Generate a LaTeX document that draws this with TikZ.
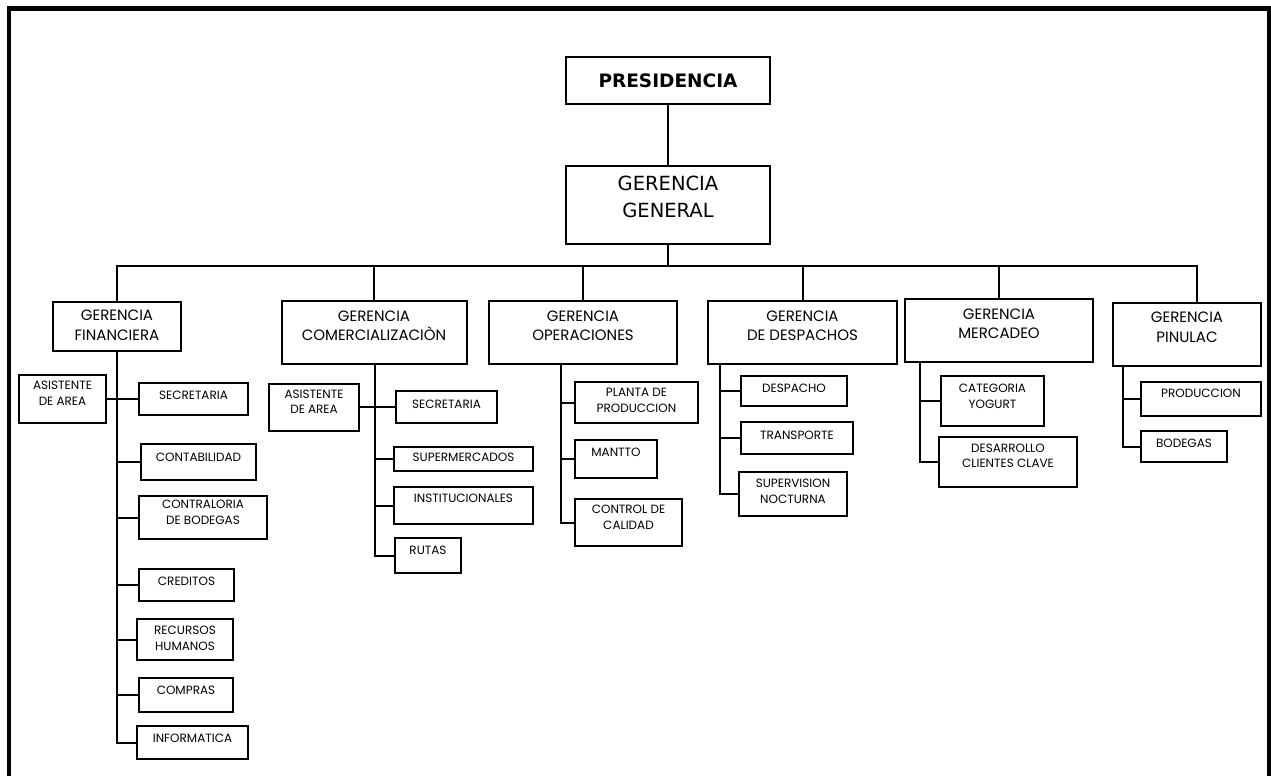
\documentclass[tikz,border=0pt]{standalone}
\usepackage{fontspec}
\setmainfont{Poppins}
\newfontfamily\headfont{DejaVu Sans}
% raise box contents without changing the box size, lines stacked in a tabular
\newcommand\lift[2]{\raisebox{#1}[\height][\depth]{\begin{tabular}{@{}c@{}}#2\end{tabular}}}
\tikzset{
  unit/.style={draw, line width=2pt, inner sep=0pt, fill=white},
  leaf/.style={unit, font=\fontsize{12}{15.5}\selectfont},
  dept/.style={unit, font=\fontsize{15}{19.5}\selectfont},
  chief/.style={unit, font=\headfont\fontsize{19.5}{27}\selectfont},
  top/.style={unit, font=\headfont\bfseries\fontsize{18.5}{22}\selectfont},
  link/.style={line width=2pt},
  sz/.style 2 args={minimum width=#1pt, minimum height=#2pt}
}
\begin{document}
\begin{tikzpicture}[x=1pt,y=-1pt]
\useasboundingbox (0,0) rectangle (1271,776);
% page frame
\draw[line width=4.5pt] (9,776) -- (9,8.5) -- (1269.5,8.5) -- (1269.5,776);

% top of the chart
\node[top, sz={204}{47}] (pres) at (668,80.5) {PRESIDENCIA};
\node[chief, sz={204}{78}] (gg) at (668,205) {\lift{6pt}{GERENCIA\\GENERAL}};

% managements
\node[dept, sz={128}{49}] (fin) at (117,326.5) {\lift{0pt}{GERENCIA\\FINANCIERA}};
\node[dept, sz={185}{63}] (com) at (374,332.5) {\lift{5.5pt}{GERENCIA\\COMERCIALIZACIÒN}};
\node[dept, sz={188}{63}] (ope) at (583,332.5) {\lift{5.5pt}{GERENCIA\\OPERACIONES}};
\node[dept, sz={189}{63}] (des) at (802.5,332.5) {\lift{5.5pt}{GERENCIA\\DE DESPACHOS}};
\node[dept, sz={188}{63}] (mer) at (999,330.5) {\lift{5.5pt}{GERENCIA\\MERCADEO}};
\node[dept, sz={148}{63}] (pin) at (1187,334.5) {\lift{6pt}{GERENCIA\\PINULAC}};

% financial area
\node[leaf, sz={87}{48}]  (fasi) at (62.5,398.5) {\lift{4pt}{ASISTENTE\\DE AREA}};
\node[leaf, sz={109}{32}] (fsec) at (193.5,398.5) {\lift{2pt}{SECRETARIA}};
\node[leaf, sz={115}{36}] (fcon) at (198.5,462) {\lift{4pt}{CONTABILIDAD}};
\node[leaf, sz={128}{43}] (fctr) at (203,517.5) {\lift{4pt}{CONTRALORIA\\DE BODEGAS}};
\node[leaf, sz={95}{32}]  (fcre) at (186.5,585) {\lift{3pt}{CREDITOS}};
\node[leaf, sz={96}{41}]  (frec) at (185,639.5) {\lift{0pt}{RECURSOS\\HUMANOS}};
\node[leaf, sz={94}{34}]  (fcom) at (186,695) {\lift{4pt}{COMPRAS}};
\node[leaf, sz={111}{33}] (finf) at (192.5,742.5) {\lift{3.5pt}{INFORMATICA}};

% commercial area
\node[leaf, sz={90}{47}]  (casi) at (314,407) {\lift{4pt}{ASISTENTE\\DE AREA}};
\node[leaf, sz={101}{32}] (csec) at (446.5,407) {\lift{2pt}{SECRETARIA}};
\node[leaf, sz={139}{24}] (csup) at (463.5,459) {\lift{1pt}{SUPERMERCADOS}};
\node[leaf, sz={139}{37}] (cins) at (463.5,505.5) {\lift{6.5pt}{INSTITUCIONALES}};
\node[leaf, sz={66}{35}]  (crut) at (428,555.5) {\lift{4pt}{RUTAS}};

% operations area
\node[leaf, sz={123}{41}] (opla) at (636.5,402.5) {\lift{1pt}{PLANTA DE\\PRODUCCION}};
\node[leaf, sz={82}{38}]  (oman) at (616,459) {\lift{6pt}{MANTTO}};
\node[leaf, sz={107}{47}] (ocal) at (628.5,522.5) {\lift{4pt}{CONTROL DE\\CALIDAD}};

% dispatch area
\node[leaf, sz={106}{30}] (ddes) at (794,391) {\lift{2pt}{DESPACHO}};
\node[leaf, sz={112}{32}] (dtra) at (797,438) {\lift{2pt}{TRANSPORTE}};
\node[leaf, sz={108}{44}] (dsup) at (793,494) {\lift{1.5pt}{SUPERVISION\\NOCTURNA}};

% marketing area
\node[leaf, sz={103}{50}] (mcat) at (992.5,401) {\lift{3.5pt}{CATEGORIA\\YOGURT}};
\node[leaf, sz={138}{50}] (mdes) at (1008,462) {\lift{5pt}{DESARROLLO\\CLIENTES CLAVE}};

% Pinulac area
\node[leaf, sz={120}{34}] (ppro) at (1201,399) {\lift{4.5pt}{PRODUCCION}};
\node[leaf, sz={86}{31}]  (pbod) at (1184,446.5) {\lift{2.5pt}{BODEGAS}};

% spine positions
\coordinate (sF) at (117,0);
\coordinate (sC) at (375,0);
\coordinate (sO) at (561,0);
\coordinate (sD) at (720,0);
\coordinate (sM) at (920,0);
\coordinate (sP) at (1123,0);
\coordinate (bus) at (0,266);
\coordinate (busR) at (1197,266);

% upper links
\draw[link] (pres) -- (gg);
\draw[link] (gg.south) -- (gg.south |- bus);
\draw[link] (fin.north) -- (fin.north |- bus) -- (busR) -- (busR |- pin.north);
\draw[link] (com.north) -- (com.north |- bus);
\draw[link] (ope.north) -- (ope.north |- bus);
\draw[link] (des.north) -- (des.north |- bus);
\draw[link] (mer.north) -- (mer.north |- bus);

% financial links
\draw[link] (sF |- fin.south) -- (sF |- finf.west) -- (finf.west);
\draw[link] (fasi.east) -- (fsec.west);
\foreach \n in {fcon,fctr,fcre,frec,fcom}
  \draw[link] (sF |- \n.west) -- (\n.west);

% commercial links
\draw[link] (sC |- com.south) -- (sC |- crut.west) -- (crut.west);
\draw[link] (casi.east) -- (csec.west);
\foreach \n in {csup,cins}
  \draw[link] (sC |- \n.west) -- (\n.west);

% operations links
\draw[link] (sO |- ope.south) -- (sO |- ocal.west) -- (ocal.west);
\foreach \n in {opla,oman}
  \draw[link] (sO |- \n.west) -- (\n.west);

% dispatch links
\draw[link] (sD |- des.south) -- (sD |- dsup.west) -- (dsup.west);
\foreach \n in {ddes,dtra}
  \draw[link] (sD |- \n.west) -- (\n.west);

% marketing links
\draw[link] (sM |- mer.south) -- (sM |- mdes.west) -- (mdes.west);
\draw[link] (sM |- mcat.west) -- (mcat.west);

% Pinulac links
\draw[link] (sP |- pin.south) -- (sP |- pbod.west) -- (pbod.west);
\draw[link] (sP |- ppro.west) -- (ppro.west);
\end{tikzpicture}
\end{document}
